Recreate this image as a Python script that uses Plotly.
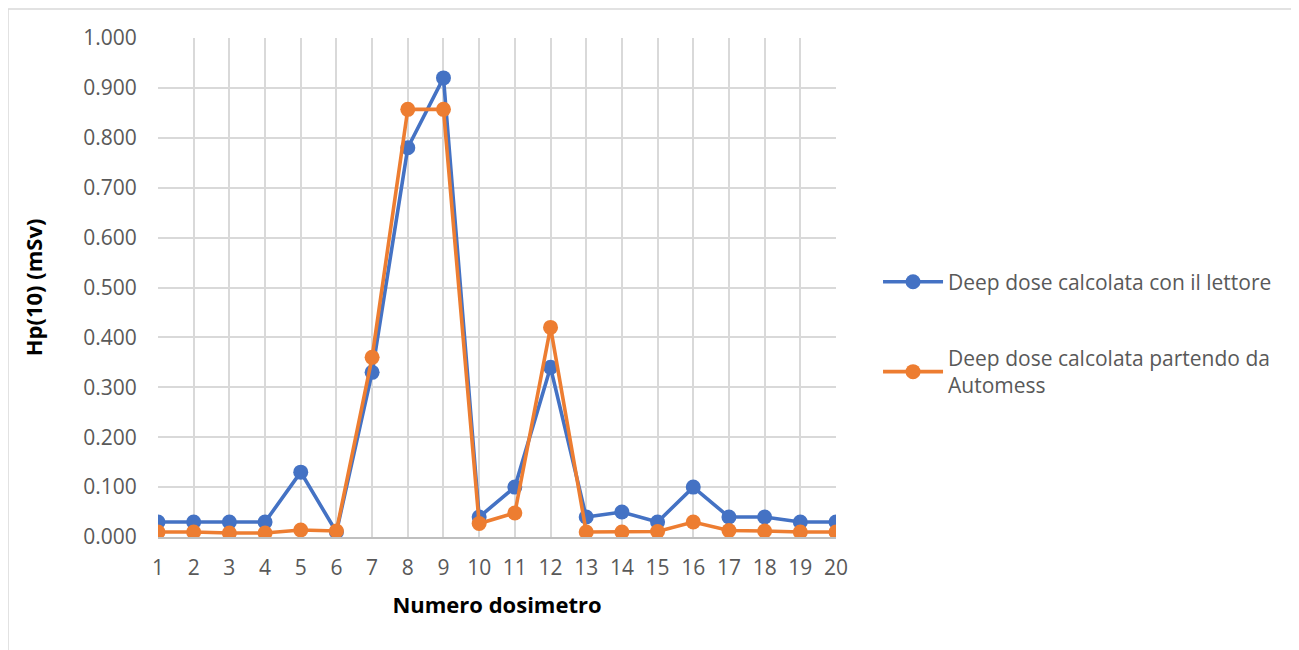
import plotly.graph_objects as go

dosimetri = list(range(1, 21))
lettore = [0.030, 0.030, 0.030, 0.030, 0.130, 0.010, 0.330, 0.780, 0.920, 0.040,
           0.100, 0.340, 0.040, 0.050, 0.030, 0.100, 0.040, 0.040, 0.030, 0.030]
automess = [0.010, 0.010, 0.008, 0.008, 0.014, 0.012, 0.360, 0.857, 0.857, 0.027,
            0.048, 0.420, 0.010, 0.010, 0.011, 0.030, 0.013, 0.012, 0.010, 0.010]
name1 = "Deep dose calcolata con il lettore"
name2 = "Deep dose calcolata partendo da<br>Automess"

FONT = "Open Sans, sans-serif"
W, H = 1291, 642
L, T, PW, PH = 150, 30, 678, 499

fig = go.Figure()
fig.add_trace(go.Scatter(x=dosimetri, y=lettore, mode="lines+markers", name=name1,
                         legendgroup="a",
                         line=dict(color="#4472C4", width=3.6),
                         marker=dict(color="#4472C4", size=15)))
fig.add_trace(go.Scatter(x=dosimetri, y=automess, mode="lines+markers", name=name2,
                         legendgroup="b",
                         line=dict(color="#ED7D31", width=3.6),
                         marker=dict(color="#ED7D31", size=15)))

fig.update_layout(
    width=W, height=H,
    paper_bgcolor="white", plot_bgcolor="white",
    margin=dict(l=L, r=W - L - PW, t=T, b=H - T - PH),
    font=dict(family=FONT, color="#595959", size=21),
    legend=dict(x=1.062, y=0.552, xanchor="left", yanchor="top",
                tracegroupgap=46, font=dict(size=21, color="#595959", family=FONT),
                itemwidth=60),
    shapes=[dict(type="rect", xref="paper", yref="paper",
                 x0=(0 - L) / PW, x1=(1289 - L) / PW,
                 y0=-(H + 10 - T - PH) / PH, y1=(T + PH - 1) / PH,
                 line=dict(color="#d9d9d9", width=1.5))],
)
fig.update_xaxes(range=[1, 20], tickmode="linear", tick0=1, dtick=1,
                 showgrid=True, gridcolor="#d9d9d9", gridwidth=1.5,
                 showline=True, linecolor="#bfbfbf", linewidth=1.5,
                 zeroline=False, ticks="outside", ticklen=11, tickcolor="rgba(0,0,0,0)",
                 tickfont=dict(size=21, color="#595959", family=FONT),
                 title=dict(text="<b>Numero dosimetro</b>",
                            font=dict(size=22, color="#000000", family=FONT), standoff=18))
fig.update_yaxes(range=[0, 1.0], tickmode="linear", tick0=0, dtick=0.1, tickformat=".3f",
                 showgrid=True, gridcolor="#d9d9d9", gridwidth=1.5,
                 zeroline=False, showline=False,
                 ticks="outside", ticklen=16, tickcolor="rgba(0,0,0,0)",
                 tickfont=dict(size=21, color="#595959", family=FONT),
                 title=dict(text="<b>Hp(10) (mSv)</b>",
                            font=dict(size=22, color="#000000", family=FONT), standoff=34))

fig.write_html("out.html")
